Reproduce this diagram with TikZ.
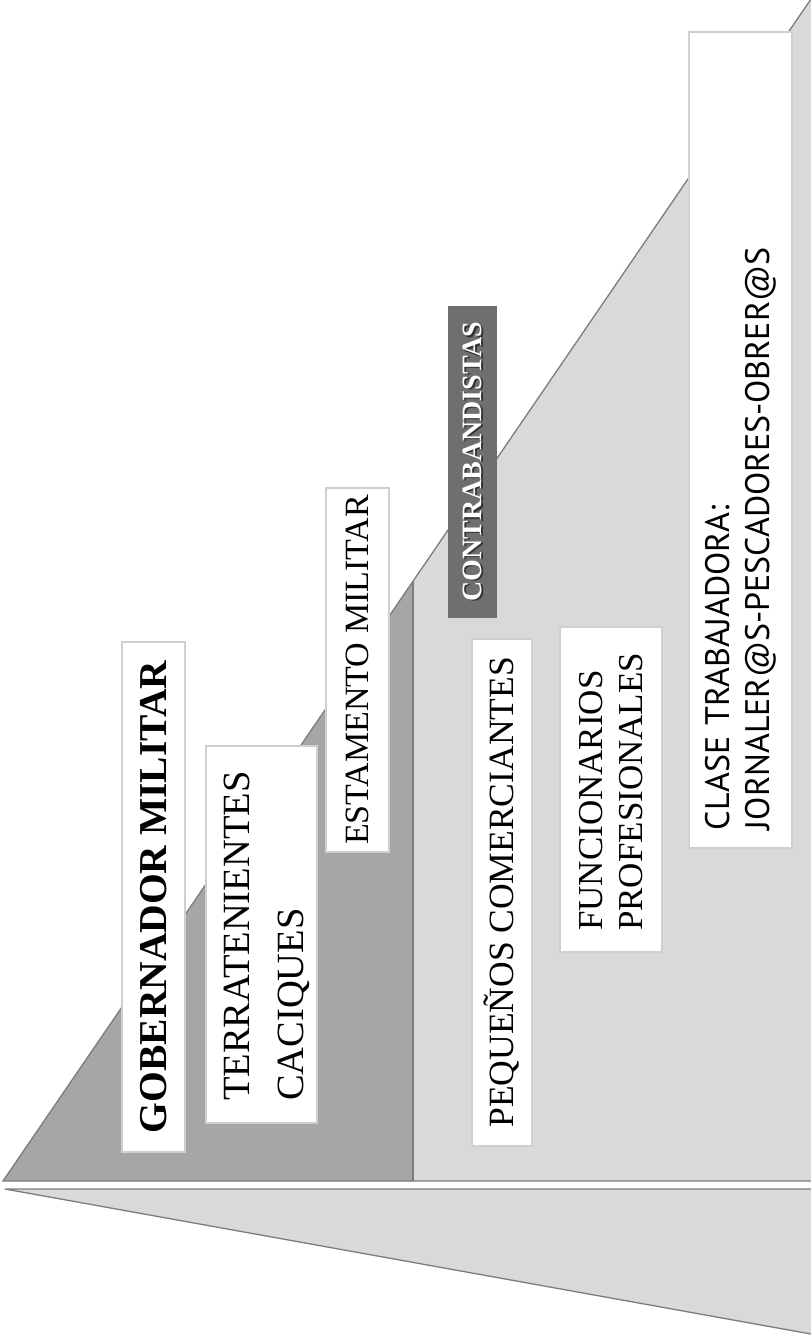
\documentclass[tikz,border=0pt]{standalone}
\usepackage{fontspec}
\setmainfont{Liberation Serif}
\newfontfamily\labelsans{PT Sans}

\definecolor{pale}{HTML}{D9D9D9}
\definecolor{mid}{HTML}{A6A6A6}
\definecolor{edge}{HTML}{7C7C7C}
\definecolor{rim}{HTML}{CFCFCF}
\definecolor{slate}{HTML}{6F6F6F}

\tikzset{
  outline/.style={draw=edge, line width=1.3pt, line join=miter},
  card/.style={draw=rim, fill=white, line width=1.2pt, rotate=90,
    inner sep=0pt, text=black, align=center},
  leftcard/.style={card, align=left},
  darkcard/.style={fill=slate, rotate=90, inner sep=0pt},
  embossed/.style={rotate=90, inner sep=0pt, font=\fontsize{28}{30}\selectfont\bfseries},
}

\begin{document}
\begin{tikzpicture}[x=1pt, y=-1pt]
\path[use as bounding box] (0,0) rectangle (811,1336);

% upper wedge with its darker step
\coordinate (tip) at (3,1181);
\coordinate (apex) at (811,-1);
\coordinate (corner) at (811,1181);
\coordinate (ridge) at (413,582);
\coordinate (ridgefoot) at (413,1181);
\fill[pale] (tip) -- (apex) -- (corner) -- cycle;
\fill[mid] (tip) -- (ridge) -- (ridgefoot) -- cycle;
\draw[outline] (apex) -- (tip) -- (corner);
\draw[outline] (ridge) -- (ridgefoot);

% lower wedge
\coordinate (ltip) at (5,1189);
\coordinate (lright) at (811,1189);
\coordinate (lfoot) at (811,1334);
\fill[pale] (ltip) -- (lright) -- (lfoot) -- cycle;
\draw[outline] (lright) -- (ltip) -- (lfoot);

% labels
\node[card, minimum width=510pt, minimum height=63pt,
      font=\fontsize{39.5}{45}\selectfont\bfseries] (gob) at (153.4,896.9)
  {GOBERNADOR MILITAR};

\node[card, minimum width=377pt, minimum height=111pt] (terr) at (261.4,934.4) {};
\node[rotate=90, align=left, inner sep=0pt, text width=333pt,
      font=\fontsize{38.5}{54}\selectfont] (terrtext) at (266.4,934.4)
  {TERRATENIENTES\\CACIQUES};

\node[card, minimum width=364pt, minimum height=63pt,
      font=\fontsize{34}{38}\selectfont] (estam) at (357.4,670)
  {ESTAMENTO MILITAR};

\node[darkcard, minimum width=312pt, minimum height=49pt] (contra) at (472.5,461.9) {};
\node[embossed, text=black!80] (contrashade) at (474.2,463.2) {CONTRABANDISTAS};
\node[embossed, text=white] (contratext) at (472.5,461.9) {CONTRABANDISTAS};

\node[card, minimum width=507pt, minimum height=60pt,
      font=\fontsize{35.5}{40}\selectfont] (peq) at (502,892.4)
  {PEQUEÑOS COMERCIANTES};

\node[leftcard, minimum width=325pt, minimum height=102pt,
      text width=283pt, inner xsep=21pt,
      font=\fontsize{35}{40}\selectfont] (func) at (611,789.4)
  {FUNCIONARIOS\\PROFESIONALES};

\node[leftcard, minimum width=816pt, minimum height=103pt,
      text width=780pt, inner xsep=18pt,
      font=\labelsans\fontsize{34}{40}\selectfont] (clase) at (740.5,440)
  {CLASE TRABAJADORA:\\JORNALER@S-PESCADORES-OBRER@S};
\end{tikzpicture}
\end{document}
